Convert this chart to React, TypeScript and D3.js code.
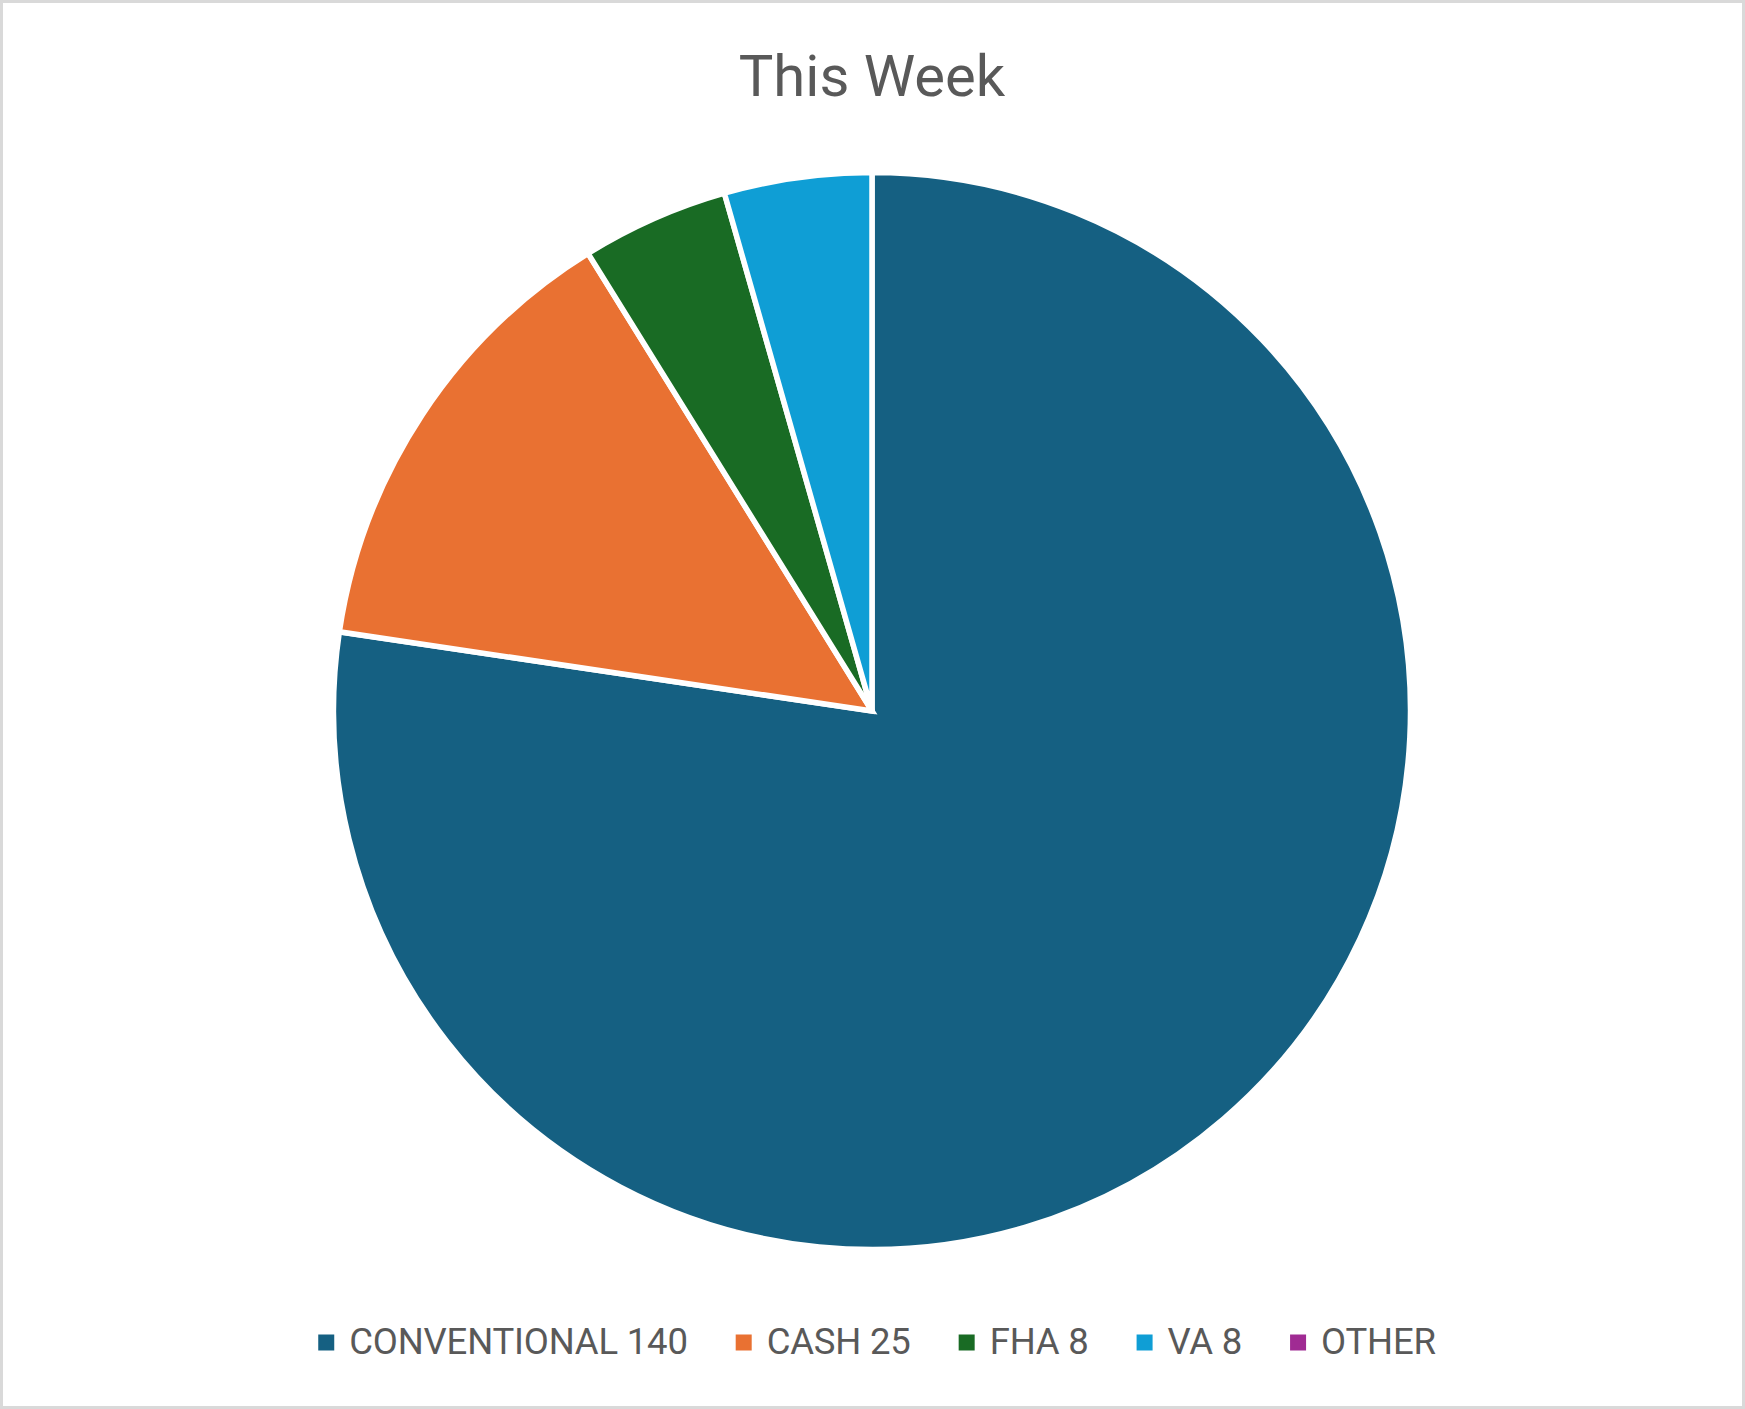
import React, { useRef, useEffect } from "react";
import * as d3 from "d3";

const categories = ["CONVENTIONAL", "CASH", "FHA", "VA", "OTHER"];
const values = [140, 25, 8, 8, 0];
const legendLabels = ["CONVENTIONAL 140", "CASH 25", "FHA 8", "VA 8", "OTHER"];
const colors = ["#156082", "#E97132", "#196B24", "#0F9ED5", "#A02B93"];
const title = "This Week";

const width = 1745;
const height = 1409;

const PieChart: React.FC = () => {
  const svgRef = useRef<SVGSVGElement>(null);

  useEffect(() => {
    if (!svgRef.current) return;
    const svg = d3.select(svgRef.current);
    svg.selectAll("*").remove();

    // background + frame
    svg
      .append("rect")
      .attr("x", 1.5)
      .attr("y", 1.5)
      .attr("width", width - 3)
      .attr("height", height - 3)
      .attr("fill", "#fff")
      .attr("stroke", "#d9d9d9")
      .attr("stroke-width", 3);

    const cx = 872;
    const cy = 711;
    const radius = 538.5;

    svg
      .append("text")
      .attr("x", cx)
      .attr("y", 96)
      .attr("text-anchor", "middle")
      .attr("font-family", "Roboto")
      .attr("font-size", 58)
      .attr("fill", "#595959")
      .text(title);

    const data = categories.map((c, i) => ({ name: c, value: values[i], color: colors[i] }));

    const pie = d3
      .pie<{ name: string; value: number; color: string }>()
      .sort(null)
      .value((d) => d.value);

    const arc = d3
      .arc<d3.PieArcDatum<{ name: string; value: number; color: string }>>()
      .innerRadius(0)
      .outerRadius(radius);

    svg
      .append("g")
      .attr("transform", `translate(${cx},${cy})`)
      .selectAll("path")
      .data(pie(data).filter((d) => d.value > 0))
      .join("path")
      .attr("d", arc)
      .attr("fill", (d) => d.data.color)
      .attr("stroke", "#fff")
      .attr("stroke-width", 5.5)
      .attr("stroke-linejoin", "miter");

    // legend
    const legendY = 1354;
    const box = 16;
    const boxGap = 15;
    const itemGap = 48;
    const legend = svg.append("g");
    const items = legend
      .selectAll("g")
      .data(legendLabels)
      .join("g");
    items
      .append("rect")
      .attr("width", box)
      .attr("height", box)
      .attr("y", legendY - 19.5)
      .attr("fill", (_, i) => colors[i]);
    const texts = items
      .append("text")
      .attr("x", box + boxGap)
      .attr("y", legendY)
      .attr("font-family", "Roboto")
      .attr("font-size", 36.5)
      .attr("letter-spacing", -0.2)
      .attr("fill", "#595959")
      .text((d) => d);

    const widths = texts.nodes().map((n) => (n as SVGTextElement).getComputedTextLength());
    const itemWidths = widths.map((w) => box + boxGap + w);
    const total = d3.sum(itemWidths) + itemGap * (itemWidths.length - 1);
    let x = cx + 5 - total / 2;
    items.attr("transform", (_, i) => {
      const t = `translate(${x},0)`;
      x += itemWidths[i] + itemGap;
      return t;
    });
  }, []);

  return <svg ref={svgRef} width={width} height={height} style={{ display: "block" }}></svg>;
};

export default function App() {
  return (
    <div style={{ position: "absolute", left: 0, top: 0 }}>
      <PieChart />
    </div>
  );
}
